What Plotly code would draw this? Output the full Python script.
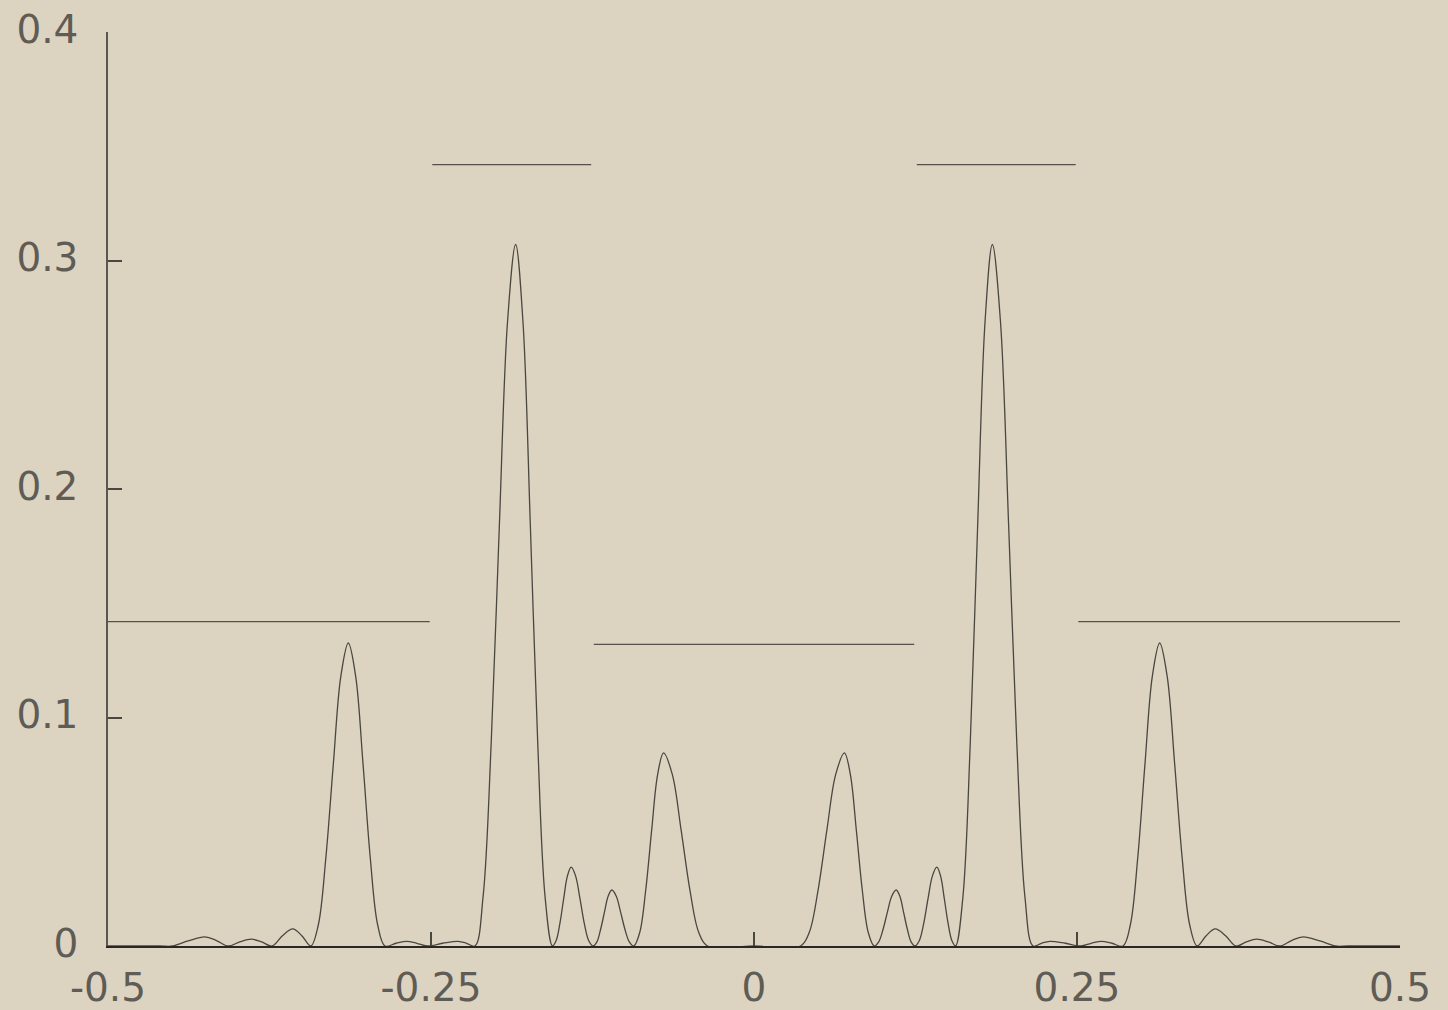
import plotly.graph_objects as go

# Spectrum curve: key points (x, y)
curve_x = [
    -0.5, -0.46, -0.450, -0.438, -0.425, -0.416, -0.407, -0.398, -0.389, -0.381, -0.373, -0.365, -0.357, -0.350, -0.343,
    -0.3372, -0.3314, -0.3256, -0.3198, -0.314, -0.3083, -0.3026, -0.2970, -0.2913, -0.2856,
    -0.277, -0.269, -0.261, -0.253, -0.241, -0.229, -0.2225, -0.216,
    -0.2097, -0.2034, -0.1971, -0.1908, -0.1845, -0.1788, -0.1731, -0.1674, -0.1617, -0.156,
    -0.1531, -0.1502, -0.1473, -0.1444, -0.1415, -0.1381, -0.1347, -0.1314, -0.1280, -0.1246,
    -0.1217, -0.1188, -0.1158, -0.1129, -0.110, -0.1066, -0.1032, -0.0998, -0.0964, -0.093,
    -0.0884, -0.0838, -0.0792, -0.0746, -0.070, -0.0632, -0.0564, -0.0496, -0.0428, -0.036,
    0.0,
    0.036, 0.0428, 0.0496, 0.0564, 0.0632, 0.070, 0.0746, 0.0792, 0.0838, 0.0884, 0.093,
    0.0964, 0.0998, 0.1032, 0.1066, 0.110, 0.1129, 0.1158, 0.1188, 0.1217, 0.1246,
    0.1280, 0.1314, 0.1347, 0.1381, 0.1415, 0.1444, 0.1473, 0.1502, 0.1531, 0.156,
    0.1617, 0.1674, 0.1731, 0.1788, 0.1845, 0.1908, 0.1971, 0.2034, 0.2097, 0.216,
    0.2225, 0.229, 0.241, 0.253, 0.261, 0.269, 0.277, 0.2856,
    0.2913, 0.2970, 0.3026, 0.3083, 0.314, 0.3198, 0.3256, 0.3314, 0.3372, 0.343,
    0.350, 0.357, 0.365, 0.373, 0.381, 0.389, 0.398, 0.407, 0.416, 0.425, 0.438, 0.450, 0.46, 0.5,
]
curve_y = [
    0, 0, 0, 0.0022, 0.004, 0.0024, 0, 0.0018, 0.003, 0.0018, 0, 0.0045, 0.0075, 0.0045, 0,
    0.0093, 0.0385, 0.0796, 0.118, 0.1326, 0.118, 0.0796, 0.0385, 0.0093, 0,
    0.0012, 0.002, 0.0012, 0, 0.0012, 0.002, 0.0012, 0,
    0.0215, 0.089, 0.184, 0.273, 0.307, 0.273, 0.184, 0.089, 0.0215, 0,
    0.0024, 0.010, 0.0207, 0.0307, 0.0345, 0.0307, 0.0207, 0.010, 0.0024, 0,
    0.0017, 0.0071, 0.0147, 0.0218, 0.0245, 0.0218, 0.0147, 0.0071, 0.0017, 0,
    0.006, 0.0245, 0.0507, 0.075, 0.0845, 0.075, 0.0507, 0.0245, 0.006, 0,
    0,
    0, 0.006, 0.0245, 0.0507, 0.075, 0.0845, 0.075, 0.0507, 0.0245, 0.006, 0,
    0.0017, 0.0071, 0.0147, 0.0218, 0.0245, 0.0218, 0.0147, 0.0071, 0.0017, 0,
    0.0024, 0.010, 0.0207, 0.0307, 0.0345, 0.0307, 0.0207, 0.010, 0.0024, 0,
    0.0215, 0.089, 0.184, 0.273, 0.307, 0.273, 0.184, 0.089, 0.0215, 0,
    0.0012, 0.002, 0.0012, 0, 0.0012, 0.002, 0.0012, 0,
    0.0093, 0.0385, 0.0796, 0.118, 0.1326, 0.118, 0.0796, 0.0385, 0.0093, 0,
    0.0045, 0.0075, 0.0045, 0, 0.0018, 0.003, 0.0018, 0, 0.0024, 0.004, 0.0022, 0, 0, 0,
]

# Horizontal level segments
band_starts = [-0.5, -0.249, -0.124, 0.126, 0.251]
band_ends = [-0.251, -0.126, 0.124, 0.249, 0.5]
band_levels = [0.142, 0.342, 0.132, 0.342, 0.142]

x_tickvals = [-0.5, -0.25, 0, 0.25, 0.5]
x_ticktext = ["-0.5", "-0.25", "0", "0.25", "0.5"]
y_tickvals = [0, 0.1, 0.2, 0.3, 0.4]
y_ticktext = ["0", "0.1", "0.2", "0.3", "0.4"]

BG = "#DCD4C1"
fig = go.Figure()

seg_x, seg_y = [], []
for s, e, lv in zip(band_starts, band_ends, band_levels):
    seg_x += [s, e, None]
    seg_y += [lv, lv, None]
fig.add_trace(go.Scatter(x=seg_x, y=seg_y, mode="lines",
                         line=dict(color="#555049", width=1.3),
                         hoverinfo="skip", showlegend=False, cliponaxis=False))

fig.add_trace(go.Scatter(x=curve_x, y=curve_y, mode="lines",
                         line=dict(color="#4a4640", width=1.3, shape="spline", smoothing=1.0),
                         showlegend=False, cliponaxis=False))

font = dict(family="DejaVu Sans, sans-serif", size=39, color="#5f5b55")

fig.update_layout(
    width=1448, height=1010,
    paper_bgcolor=BG, plot_bgcolor=BG,
    margin=dict(l=108, r=48, t=32, b=64, autoexpand=False),
    font=font,
    xaxis=dict(range=[-0.5, 0.5], tickvals=x_tickvals, ticktext=x_ticktext,
               showgrid=False, zeroline=False, showline=True, linecolor="#2a2622", linewidth=2.2,
               ticks="inside", ticklen=14, tickwidth=1.5, tickcolor="#4a4640",
               tickfont=font, ticklabelstandoff=6, automargin=False, fixedrange=True),
    yaxis=dict(range=[0, 0.4], tickvals=y_tickvals, ticktext=y_ticktext,
               showgrid=False, zeroline=False, showline=True, linecolor="#5a5650", linewidth=1.5,
               ticks="inside", ticklen=14, tickwidth=1.5, tickcolor="#4a4640",
               tickfont=font, ticklabelstandoff=20, ticklabelshift=-3,
               automargin=False, fixedrange=True),
)

fig.write_html(
    "out.html",
    config={"displayModeBar": False},
    post_script="document.body.style.margin='0';document.body.style.background='%s';"
                "document.documentElement.style.overflow='hidden';" % BG,
)
